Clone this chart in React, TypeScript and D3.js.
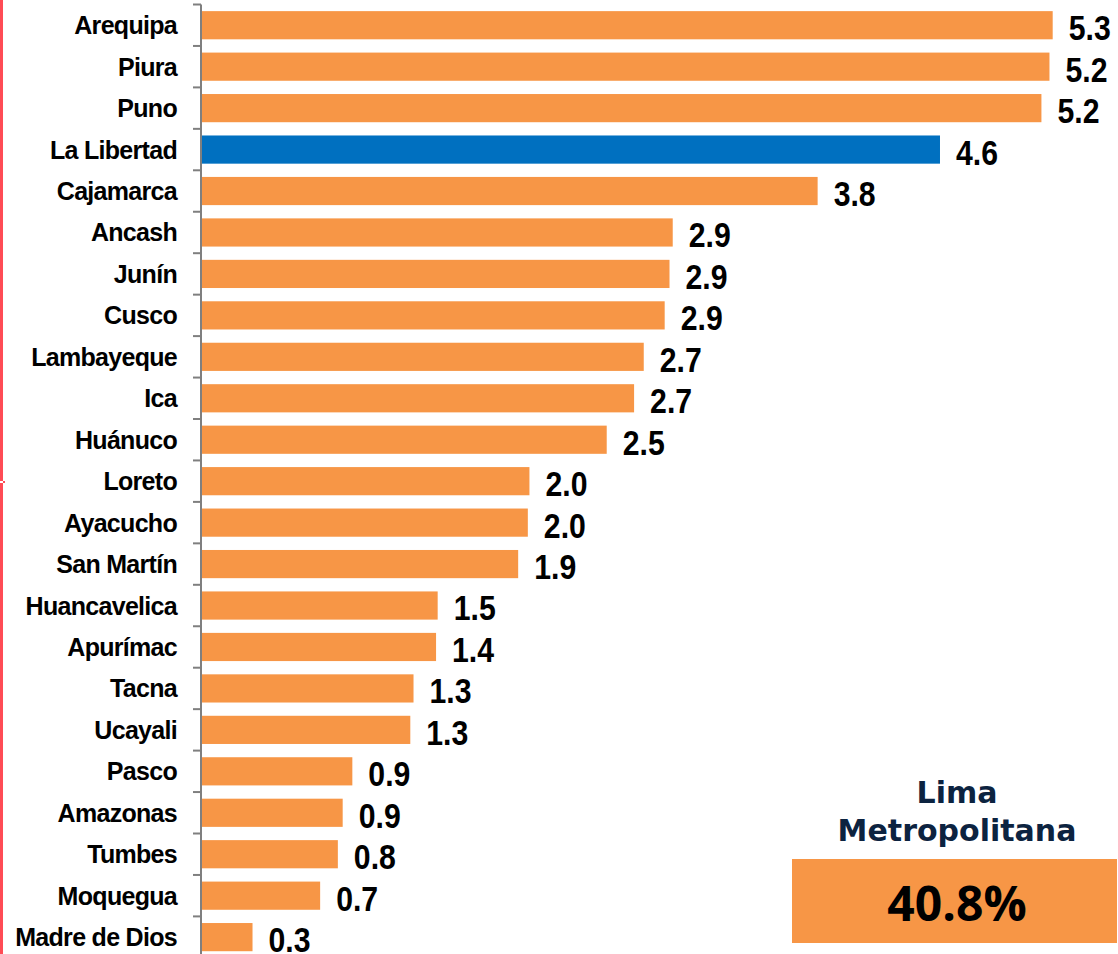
import React from "react";
import * as d3 from "d3";

const categories = [
  "Arequipa", "Piura", "Puno", "La Libertad", "Cajamarca", "Ancash", "Junín", "Cusco",
  "Lambayeque", "Ica", "Huánuco", "Loreto", "Ayacucho", "San Martín", "Huancavelica",
  "Apurímac", "Tacna", "Ucayali", "Pasco", "Amazonas", "Tumbes", "Moquegua", "Madre de Dios",
];
const values = [
  5.29, 5.27, 5.22, 4.59, 3.83, 2.93, 2.91, 2.88, 2.75, 2.69, 2.52, 2.04, 2.03, 1.97,
  1.47, 1.46, 1.32, 1.30, 0.94, 0.88, 0.85, 0.74, 0.32,
];
const valueLabels = [
  "5.3", "5.2", "5.2", "4.6", "3.8", "2.9", "2.9", "2.9", "2.7", "2.7", "2.5", "2.0", "2.0",
  "1.9", "1.5", "1.4", "1.3", "1.3", "0.9", "0.9", "0.8", "0.7", "0.3",
];
const highlight = "La Libertad";
const limaTitle = ["Lima", "Metropolitana"];
const limaValue = "40.8%";

const W = 1118;
const H = 954;
const ORANGE = "#F79646";
const BLUE = "#0070C0";

export default function App() {
  const x0 = 201;
  const x = d3.scaleLinear().domain([0, 5.3]).range([x0, x0 + 5.3 * 161]);
  const y = d3
    .scaleBand<string>()
    .domain(categories)
    .range([4.5, 4.5 + 41.45 * categories.length])
    .paddingInner(0.32)
    .paddingOuter(0.16);
  const step = y.step();
  const top = 4.5;
  const boundaries = d3.range(categories.length + 1).map((i) => top + i * step);

  return (
    <svg
      width={W}
      height={H}
      style={{ position: "absolute", left: 0, top: 0, display: "block", background: "#fff" }}
    >
      {/* left red border */}
      <rect x={0} y={0} width={3} height={H} fill="#FF4B55" />
      <rect x={0} y={481} width={3} height={2} fill="#fff" />
      <rect x={3} y={481} width={2} height={2} fill="#FF4B55" />

      {/* bars */}
      {categories.map((c, i) => (
        <rect
          key={c}
          x={x(0) + 1}
          y={y(c)}
          width={x(values[i]) - x(0) - 1}
          height={y.bandwidth()}
          fill={c === highlight ? BLUE : ORANGE}
        />
      ))}

      {/* axis */}
      <line x1={x0} x2={x0} y1={top} y2={H} stroke="#7F7F7F" strokeWidth={2} />
      {boundaries.map((b, i) => (
        <line key={i} x1={x0 - 8} x2={x0} y1={b} y2={b} stroke="#7F7F7F" strokeWidth={2} />
      ))}

      {/* category labels */}
      {categories.map((c) => (
        <text
          key={c}
          x={177}
          y={(y(c) as number) + y.bandwidth() / 2}
          dy="0.36em"
          textAnchor="end"
          fontFamily="'Liberation Sans', Arial, sans-serif"
          fontWeight="bold"
          fontSize={25}
          letterSpacing={-0.7}
          fill="#000"
        >
          {c}
        </text>
      ))}

      {/* value labels */}
      {categories.map((c, i) => (
        <text
          key={c}
          transform={`translate(${x(values[i]) + 16},${(y(c) as number) + y.bandwidth() / 2 + 2}) scale(0.84,1)`}
          dy="0.36em"
          fontFamily="'Liberation Sans', Arial, sans-serif"
          fontWeight="bold"
          fontSize={36}
          fill="#000"
        >
          {valueLabels[i]}
        </text>
      ))}

      {/* Lima Metropolitana box */}
      {limaTitle.map((t, i) => (
        <text
          key={t}
          x={957}
          y={803 + i * 38}
          textAnchor="middle"
          fontFamily="'DejaVu Sans', Verdana, sans-serif"
          fontWeight="bold"
          fontSize={30}
          fill="#0C2340"
        >
          {t}
        </text>
      ))}
      <rect x={792} y={859} width={325} height={84} fill={ORANGE} />
      <text
        x={957}
        y={921}
        textAnchor="middle"
        fontFamily="'Open Sans', sans-serif"
        fontWeight="bold"
        fontSize={48}
        fill="#000"
      >
        {limaValue}
      </text>
    </svg>
  );
}
